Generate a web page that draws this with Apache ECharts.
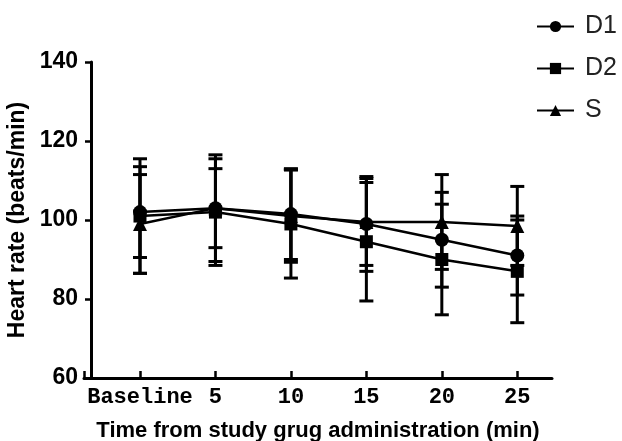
<!DOCTYPE html>
<html>
<head>
<meta charset="utf-8">
<script src="https://cdn.jsdelivr.net/npm/echarts@6/dist/echarts.min.js"></script>
<style>
  html, body { margin: 0; padding: 0; background: #fff; }
  #chart { width: 622px; height: 441px; }
</style>
</head>
<body>
<div id="chart"></div>
<script>
const timepoints = [0, 5, 10, 15, 20, 25]
const tickLabels = ['Baseline', '5', '10', '15', '20', '25']
const yTicks = [60, 80, 100, 120, 140]

const d1Mean = [102, 103, 101.5, 99, 95, 91]
const d1Sd = [11.5, 13.5, 11.5, 12, 12, 10]
const d2Mean = [101, 102, 99, 94.5, 90, 87]
const d2Sd = [14.5, 13.5, 13.7, 15, 14, 13]
const sMean = [99, 103, 101, 99.5, 99.5, 98.5]
const sSd = [12.5, 10, 11.7, 11, 12, 10]

const groups = [
  { name: 'D1', mean: d1Mean, sd: d1Sd, symbol: 'circle', size: 14 },
  { name: 'D2', mean: d2Mean, sd: d2Sd, symbol: 'rect', size: 13 },
  { name: 'S', mean: sMean, sd: sSd, symbol: 'triangle', size: 14 }
]

const xMin = -3.71
const xMax = 27.3

function errorBar(params, api) {
  const x = api.value(0)
  const lo = api.coord([x, api.value(1)])
  const hi = api.coord([x, api.value(2)])
  const half = 7
  const style = { stroke: '#000', lineWidth: 3 }
  return {
    type: 'group',
    children: [
      { type: 'line', shape: { x1: lo[0], y1: lo[1], x2: hi[0], y2: hi[1] }, style },
      { type: 'line', shape: { x1: lo[0] - half, y1: lo[1], x2: lo[0] + half, y2: lo[1] }, style },
      { type: 'line', shape: { x1: hi[0] - half, y1: hi[1], x2: hi[0] + half, y2: hi[1] }, style }
    ]
  }
}

const series = []
groups.forEach(g => {
  series.push({
    name: g.name + ' err',
    type: 'custom',
    renderItem: errorBar,
    data: timepoints.map((t, i) => [t, g.mean[i] - g.sd[i], g.mean[i] + g.sd[i]]),
    encode: { x: 0, y: [1, 2] },
    z: 1
  })
  series.push({
    name: g.name,
    type: 'line',
    data: timepoints.map((t, i) => [t, g.mean[i]]),
    symbol: g.symbol,
    symbolSize: g.size,
    lineStyle: { color: '#000', width: 2.5 },
    itemStyle: { color: '#000' },
    z: 2
  })
})

const chart = echarts.init(document.getElementById('chart'))
chart.setOption({
  animation: false,
  backgroundColor: '#fff',
  grid: { left: 84, right: 70, top: 62, bottom: 63, outerBoundsMode: 'none', containLabel: false },
  legend: {
    data: groups.map(g => g.name),
    orient: 'vertical',
    left: 531,
    top: 9,
    itemWidth: 37,
    itemHeight: 14,
    itemGap: 17,
    textStyle: { fontFamily: 'Liberation Sans', fontSize: 25, color: '#222', padding: [0, 0, 0, 6] }
  },
  xAxis: {
    type: 'value',
    min: xMin,
    max: xMax,
    name: 'Time from study grug administration (min)',
    nameLocation: 'middle',
    nameGap: 42,
    nameTextStyle: { fontFamily: 'Liberation Sans', fontWeight: 'bold', fontSize: 22, color: '#000' },
    splitLine: { show: false },
    axisLine: { onZero: false, lineStyle: { color: '#000', width: 3 } },
    axisTick: {
      inside: true,
      length: 7,
      customValues: [xMin].concat(timepoints),
      lineStyle: { color: '#000', width: 2.5 }
    },
    axisLabel: {
      customValues: timepoints,
      margin: 8,
      fontFamily: 'Liberation Mono',
      fontWeight: 'bold',
      fontSize: 22,
      color: '#000',
      formatter: v => tickLabels[timepoints.indexOf(v)]
    }
  },
  yAxis: {
    type: 'value',
    min: 60,
    max: 140,
    interval: 20,
    offset: -7,
    name: 'Heart rate (beats/min)',
    nameLocation: 'middle',
    nameRotate: 90,
    nameGap: 61,
    nameTextStyle: { fontFamily: 'Liberation Sans', fontWeight: 'bold', fontSize: 23, color: '#000' },
    splitLine: { show: false },
    axisLine: { show: true, onZero: false, lineStyle: { color: '#000', width: 3 } },
    axisTick: { show: true, length: 6, lineStyle: { color: '#000', width: 2.5 } },
    axisLabel: {
      margin: 13,
      fontFamily: 'Liberation Sans',
      fontWeight: 'bold',
      fontSize: 23,
      color: '#000',
      formatter: v => (yTicks.indexOf(v) >= 0 ? String(v) : '')
    }
  },
  series
})
</script>
</body>
</html>
